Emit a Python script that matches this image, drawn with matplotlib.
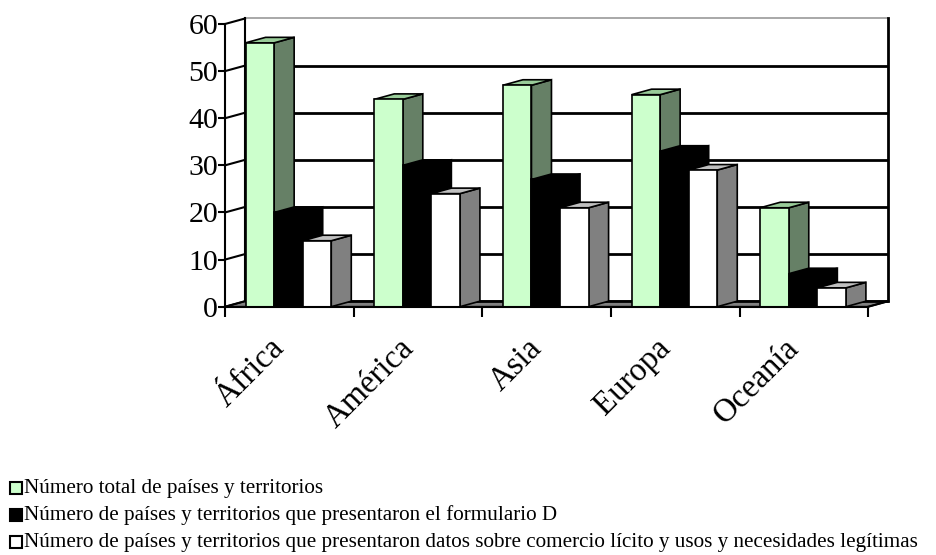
import matplotlib
matplotlib.use('Agg')
import matplotlib.pyplot as plt
from matplotlib.patches import Polygon, Rectangle
from matplotlib.transforms import ScaledTranslation

plt.rcParams['font.family'] = ['Liberation Serif', 'DejaVu Serif']

# Data
regions = ['África', 'América', 'Asia', 'Europa', 'Oceanía']
total_paises = [56, 44, 47, 45, 21]
formulario_d = [20, 30, 27, 33, 7]
comercio_licito = [14, 24, 21, 29, 4]
series_labels = [
    'Número total de países y territorios',
    'Número de países y territorios que presentaron el formulario D',
    'Número de países y territorios que presentaron datos sobre comercio lícito y usos y necesidades legítimas',
]

# face colours: front, side, top
face_colors = [
    ('#ccffcc', '#668066', '#99cc99'),
    ('#000000', '#000000', '#000000'),
    ('#ffffff', '#808080', '#c0c0c0'),
]

fig = plt.figure(figsize=(9.36, 5.55), dpi=100)
W, H = 936, 555
x0_px, x1_px, y0_px, y1_px = 225, 868.3, 306.7, 24
ax = fig.add_axes([x0_px / W, 1 - y0_px / H, (x1_px - x0_px) / W, (y0_px - y1_px) / H])
ncat = len(regions)
ax.set_xlim(0, ncat)
ax.set_ylim(0, 60)

# depth offset (oblique projection)
dx = 20 * ncat / (x1_px - x0_px)
dy = 5.5 * 60 / (y0_px - y1_px)

# floor
ax.add_patch(Polygon([(0, 0), (ncat, 0), (ncat + dx, dy), (dx, dy)], closed=True,
                     facecolor='#808080', edgecolor='black', lw=1.2, zorder=1, clip_on=False))

# back wall grid and left wall lines
for v in range(0, 70, 10):
    col = '#999999' if v == 60 else 'black'
    ax.plot([dx, ncat + dx], [v + dy, v + dy], color=col, lw=2 if v < 60 else 1.2,
            zorder=1.5, clip_on=False, solid_capstyle='butt')
    ax.plot([0, dx], [v, v + dy], color='black', lw=1.5, zorder=1.5, clip_on=False)
ax.plot([dx, dx], [dy, 60 + dy], color='black', lw=1.5, zorder=1.5, clip_on=False)
ax.plot([ncat + dx, ncat + dx], [dy, 60 + dy], color='black', lw=2, zorder=1.5, clip_on=False)
ax.plot([ncat, ncat + dx], [0, dy], color='black', lw=1.5, zorder=1.5, clip_on=False)

# bars
offset = 0.16
bw = 0.222
series = [total_paises, formulario_d, comercio_licito]
z = 2
for i in range(ncat):
    for s, vals in enumerate(series):
        v = vals[i]
        front, side, top = face_colors[s]
        xa = i + offset + s * bw
        xb = xa + bw
        ax.add_patch(Polygon([(xb, 0), (xb + dx, dy), (xb + dx, v + dy), (xb, v)], closed=True,
                             facecolor=side, edgecolor='black', lw=1.2, zorder=z, clip_on=False))
        ax.add_patch(Polygon([(xa, v), (xb, v), (xb + dx, v + dy), (xa + dx, v + dy)], closed=True,
                             facecolor=top, edgecolor='black', lw=1.2, zorder=z, clip_on=False))
        ax.add_patch(Rectangle((xa, 0), bw, v, facecolor=front, edgecolor='black',
                               lw=1.2, zorder=z + 0.5, clip_on=False))
        z += 1

# axes styling
for name in ['top', 'right']:
    ax.spines[name].set_visible(False)
ax.spines['left'].set_linewidth(1.5)
ax.spines['bottom'].set_linewidth(1.5)
ax.spines['left'].set_zorder(50)
ax.spines['bottom'].set_zorder(50)
ax.set_yticks(range(0, 61, 10))
ax.tick_params(axis='y', direction='out', length=5, width=1.5, labelsize=21.5, pad=0)
ax.set_xticks(range(ncat + 1))
ax.set_xticklabels([])
ax.tick_params(axis='x', which='major', direction='out', length=7, width=1.5)
ax.patch.set_visible(False)

# rotated category labels
lab_off = ScaledTranslation(-20 / 100, -26 / 100, fig.dpi_scale_trans)
for i, name in enumerate(regions):
    ax.text(i + 0.5, 0, name, fontsize=23.5, rotation=45, rotation_mode='anchor',
            ha='right', va='top', transform=ax.transData + lab_off)

# legend
leg_y = [488, 515, 542]
for s, lab in enumerate(series_labels):
    yy = 1 - leg_y[s] / H
    fig.patches.append(Rectangle((10 / W, yy - 6 / H), 12 / W, 12 / H, transform=fig.transFigure,
                                 facecolor=face_colors[s][0], edgecolor='black', lw=1.5))
    fig.text(24 / W, yy, lab, fontsize=15.2, va='center', ha='left')

fig.savefig('out.png', dpi=100)
